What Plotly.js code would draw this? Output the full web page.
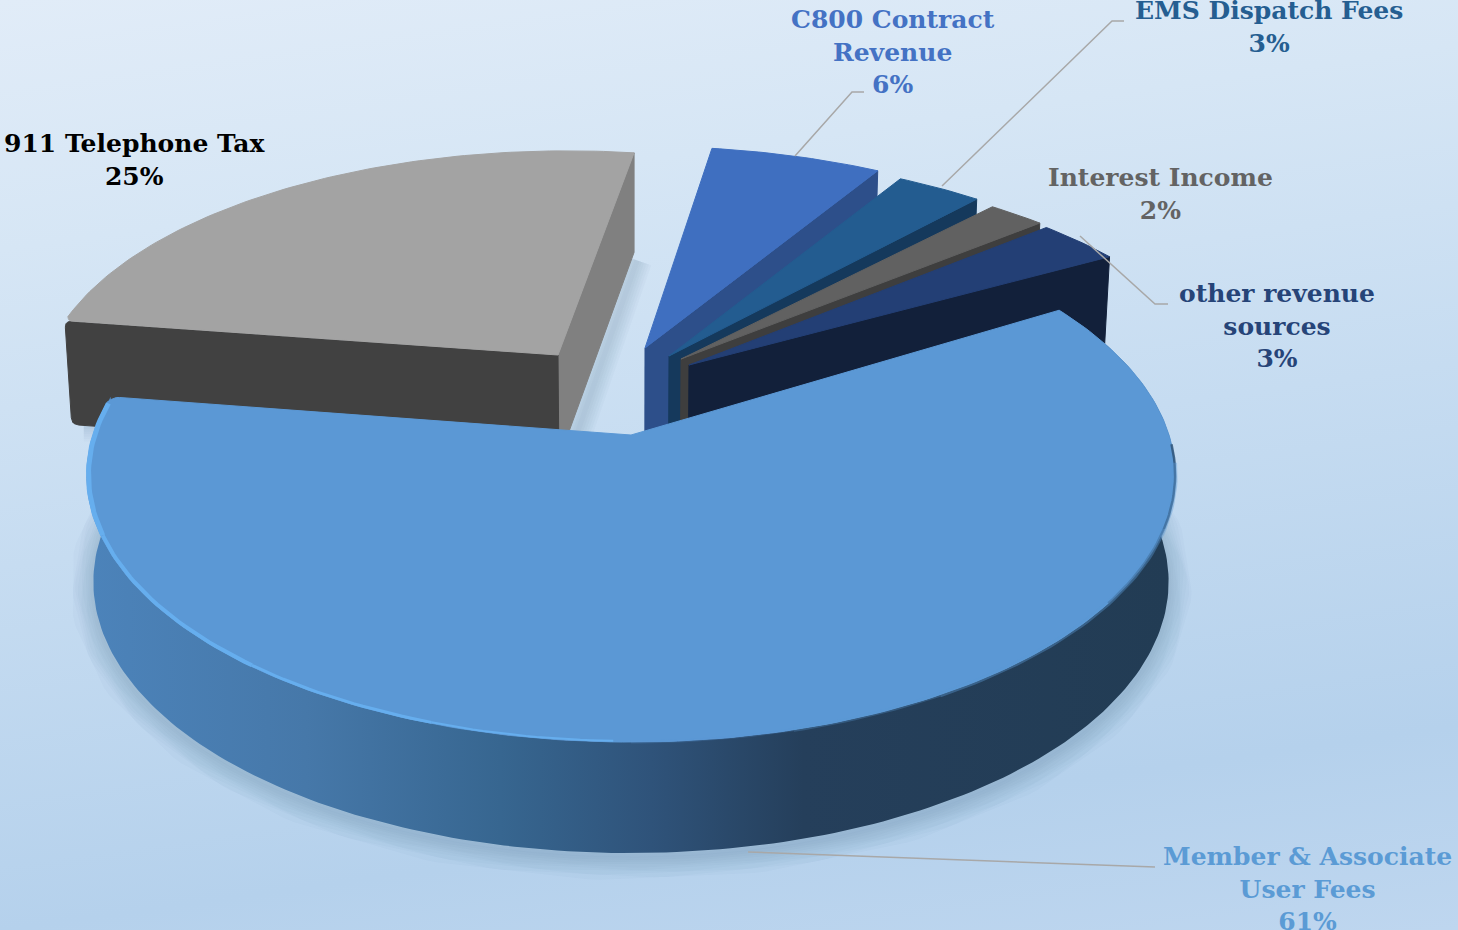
<!DOCTYPE html>
<html>
<head>
<meta charset="utf-8">
<title>Revenue sources</title>
<script src="https://cdn.plot.ly/plotly-3.0.1.min.js"></script>
<style>
  html, body { margin: 0; padding: 0; width: 1458px; height: 930px; overflow: hidden; }
  body { background: linear-gradient(172deg, #e1ecf8 0%, #d6e6f5 22%, #c6dcf1 50%, #b5d1ec 82%, #bed6ef 100%); }
  #chart { width: 1458px; height: 930px; }
</style>
</head>
<body>
<div id="chart"></div>
<script>
// Revenue shares, clockwise from the large front slice
const categories = ["Member & Associate<br>User Fees", "911 Telephone Tax", "C800 Contract<br>Revenue",
                    "EMS Dispatch Fees", "Interest Income", "other revenue<br>sources"];
const shares = [61, 25, 6, 3, 2, 3];

// Slice colours: top surface, cut faces, label
const topColors   = ["#5b98d5", "#a3a3a3", "#3f6fc0", "#235c90", "#616161", "#233f75"];
const faceColors  = ["#223c54", "#808080", "#2d4f8a", "#15395c", "#3e3e3e", "#12203a"];
const labelColors = ["#5b9bd5", "#000000", "#4472c4", "#255e91", "#636363", "#264478"];
const frontFace911 = "#414141";

// Perspective of the pie: centre, radii and foreshortening of the disc
const view = { cx: 632, cy: 435, A: 538, B: 261, k: 0.15, height: 106, taper: 5, shrink: 0.988, firstAngle: 31 };
// How far each slice is pulled out from the centre, in pixels on the top plane
const explodeX = [-1, -74, 13, 37, 49, 57];
const explodeY = [0, -80, -87, -79, -76, -70];
// Radial scale across and into the picture
const radiusU = [1, 0.995, 1.02, 1.02, 1.03, 1.025];
const radiusV = [1, 0.98, 0.975, 0.965, 0.93, 0.935];

// Label placement
const labelX = [1307, 134, 893, 1269, 1160, 1277];
const labelY = [889, 160, 52, 27, 194, 326];

// Leader lines from slice to label
const leaderX = [[748, 1155], [795, 852, 864], [942, 1112, 1124], [1080, 1155, 1168]];
const leaderY = [[852, 867], [156, 92, 92], [186, 21, 21], [236, 304, 304]];

function project(u, v) {
  const d = 1 + view.k * v;
  return [view.cx + view.A * u / d, view.cy - view.B * v / d];
}
function drop(p, v) {
  return [view.cx + (p[0] - view.cx) * view.shrink, p[1] + view.height - view.taper * v];
}
function offsetFromScreen(dx, dy) {
  const v = -dy / (view.B + view.k * dy);
  return [dx * (1 + view.k * v) / view.A, v];
}

// Angular extent of each slice, running clockwise
const slices = [];
let angle = view.firstAngle;
shares.forEach((s, i) => {
  const next = angle - s * 3.6;
  const off = offsetFromScreen(explodeX[i], explodeY[i]);
  slices.push({ a0: angle, a1: next, off, ru: radiusU[i], rv: radiusV[i] });
  angle = next;
});

function arc(sl, a0, a1, rs) {
  const n = Math.max(2, Math.ceil(Math.abs(a1 - a0)));
  const out = [];
  for (let j = 0; j <= n; j++) {
    const t = (a0 + (a1 - a0) * j / n) * Math.PI / 180;
    const u = sl.off[0] + sl.ru * (rs || 1) * Math.cos(t);
    const v = sl.off[1] + sl.rv * (rs || 1) * Math.sin(t);
    out.push({ top: project(u, v), bot: drop(project(u, v), v), v });
  }
  return out;
}
const apexTop = sl => project(sl.off[0], sl.off[1]);
const apexBot = sl => drop(apexTop(sl), sl.off[1]);

// Replace the listed polygon corners with short curves
function rounded(points, corners, r) {
  const out = [];
  points.forEach((p, i) => {
    if (!corners.includes(i)) { out.push(p); return; }
    const prev = points[(i - 1 + points.length) % points.length];
    const next = points[(i + 1) % points.length];
    const along = (q) => {
      const dx = q[0] - p[0], dy = q[1] - p[1], len = Math.hypot(dx, dy);
      return [p[0] + dx / len * r, p[1] + dy / len * r];
    };
    const a = along(prev), b = along(next);
    for (let t = 0; t <= 1.001; t += 0.2) {
      const s = 1 - t;
      out.push([s * s * a[0] + 2 * s * t * p[0] + t * t * b[0], s * s * a[1] + 2 * s * t * p[1] + t * t * b[1]]);
    }
  });
  return out;
}

function poly(points, color, extra) {
  return Object.assign({
    x: points.map(p => p[0]).concat(points[0][0]),
    y: points.map(p => p[1]).concat(points[0][1]),
    mode: "lines", fill: "toself", fillcolor: color,
    line: { color, width: 1 }, hoverinfo: "skip", showlegend: false, type: "scatter"
  }, extra || {});
}
function stroke(points, color, width) {
  return {
    x: points.map(p => p[0]), y: points.map(p => p[1]),
    mode: "lines", line: { color, width, shape: "linear" },
    hoverinfo: "skip", showlegend: false, type: "scatter"
  };
}
function cutFace(sl, angleAt, color, roundIdx) {
  const e = arc(sl, angleAt, angleAt, 1)[0];
  const pts = [apexTop(sl), e.top, e.bot, apexBot(sl)];
  return poly(roundIdx ? rounded(pts, roundIdx, 7) : pts, color);
}
function topFace(sl, color, roundIdx) {
  const a = arc(sl, sl.a0, sl.a1);
  const pts = [apexTop(sl)].concat(a.map(p => p.top));
  return poly(roundIdx ? rounded(pts, roundIdx, 9) : pts, color);
}
// Stack of faint wide strokes that reads as a blurred shadow
function softShadow(points, maxWidth, alpha) {
  for (let w = maxWidth; w > 0; w -= 5) {
    traces.push(stroke(points, `rgba(50,80,120,${alpha})`, w));
  }
}

const traces = [];

// Soft cast shadow beneath the pie
const rimMember = arc(slices[0], slices[0].a0 - 14, slices[0].a1 - 16);
softShadow(rimMember.map(p => [p.bot[0], p.bot[1] + 4]), 46, 0.022);
const tax = slices[1];
const taxEnd = arc(tax, tax.a1, tax.a1)[0];
softShadow([[taxEnd.bot[0] + 3, taxEnd.bot[1] + 8], [apexBot(tax)[0] + 12, apexBot(tax)[1] - 8]], 30, 0.03);
const taxStart = arc(tax, tax.a0, tax.a0)[0];
softShadow([[taxStart.bot[0] + 12, taxStart.bot[1] + 2], [taxStart.bot[0] + 40, taxStart.bot[1] + 2]], 30, 0.025);

// 911 slice: both cut faces, then the top
traces.push(cutFace(tax, tax.a1, faceColors[1]));
traces.push(cutFace(tax, tax.a0, frontFace911, [1, 2]));
traces.push(topFace(tax, topColors[1], [1]));

// Narrow slices, back to front
for (let i = 2; i < slices.length; i++) {
  traces.push(cutFace(slices[i], slices[i].a1, faceColors[i]));
  traces.push(topFace(slices[i], topColors[i]));
}

// Front slice: curved wall shaded from left to right, then the top
const member = slices[0];
const memberArc = arc(member, member.a0, member.a1);
traces.push(poly(memberArc.map(p => p.top).concat(memberArc.slice().reverse().map(p => p.bot)), "#223c54", {
  fillgradient: {
    type: "horizontal", start: 90, stop: 1170,
    colorscale: [[0, "#4c83ba"], [0.2, "#4678a9"], [0.38, "#376690"], [0.52, "#2f537a"], [0.66, "#253f5b"], [1, "#223c54"]]
  },
  line: { width: 0 }
}));
traces.push(topFace(member, topColors[0], [memberArc.length]));

// Softened edge where the top meets the dark wall, bright bevel on the left
[[-2, -20, 0.8, 2.5], [-20, -36, 0.55, 2.5]].forEach(([a, b, al, w]) => {
  traces.push(stroke(arc(member, a, b).map(p => p.top), `rgba(45,80,115,${al})`, w));
});
[[-6, -60, 0.4, 5], [-60, -75, 0.3, 4], [-75, -90, 0.2, 3]].forEach(([a, b, al, w]) => {
  traces.push(stroke(arc(member, a, b).map(p => p.top), `rgba(91,152,213,${al})`, w));
});
[[1.5, 30, 5], [30, 60, 4], [60, 80, 3], [80, 97, 2]].forEach(([from, to, w]) => {
  const seg = arc(member, member.a1 + from, member.a1 + to, 0.997);
  traces.push(stroke(seg.map(p => p.top), "#66aeee", w));
});

// Leader lines
leaderX.forEach((xs, i) => {
  traces.push(stroke(xs.map((x, j) => [x, leaderY[i][j]]), "#a8a8a8", 1.5));
});

const annotations = categories.map((c, i) => ({
  x: labelX[i], y: labelY[i], xref: "x", yref: "y",
  text: `${c}<br>${shares[i]}%`, showarrow: false, align: "center",
  xanchor: "center", yanchor: "middle",
  font: { family: "'DejaVu Serif', serif", size: 25, color: labelColors[i], weight: 700 }
}));

Plotly.newPlot("chart", traces, {
  width: 1458, height: 930,
  margin: { l: 0, r: 0, t: 0, b: 0 },
  paper_bgcolor: "rgba(0,0,0,0)", plot_bgcolor: "rgba(0,0,0,0)",
  xaxis: { range: [0, 1458], visible: false, fixedrange: true },
  yaxis: { range: [930, 0], visible: false, fixedrange: true },
  annotations, showlegend: false
}, { displayModeBar: false, staticPlot: true });
</script>
</body>
</html>
